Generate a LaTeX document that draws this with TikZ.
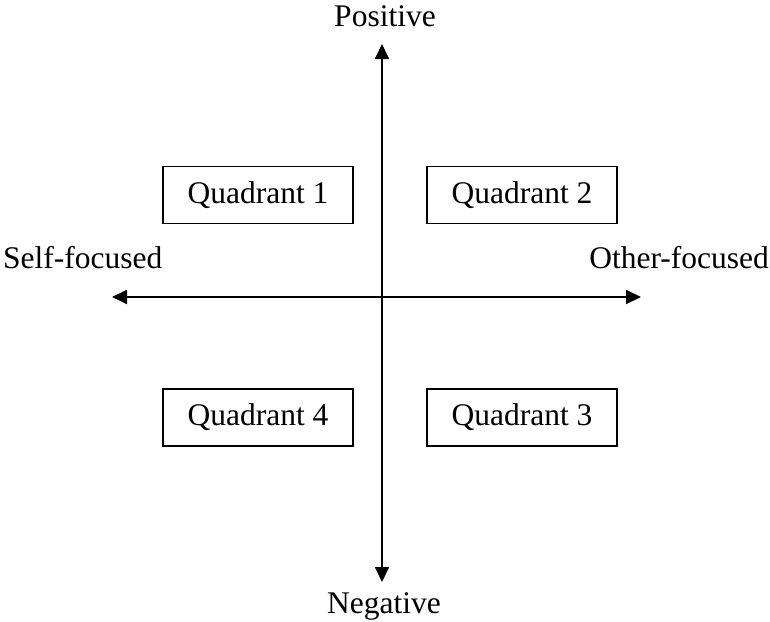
\documentclass[tikz,border=0pt]{standalone}
\usepackage{fontspec}
\setmainfont{Liberation Serif}
\usetikzlibrary{arrows.meta}
\begin{document}
\begin{tikzpicture}[x=1pt,y=-1pt,
  axis/.style={line width=1.8pt,-{Triangle[length=15pt,width=14pt]}},
  quad/.style={draw,line width=1.2pt,minimum width=190pt,minimum height=57pt,inner sep=0pt,font=\fontsize{31.5}{36}\selectfont},
  lbl/.style={font=\fontsize{31.5}{36}\selectfont,inner sep=0pt}]
\useasboundingbox (0,0) rectangle (770,621);
\coordinate (c) at (382,297);
\coordinate (top) at (382,44);
\coordinate (bot) at (382,582);
\coordinate (left) at (112,297);
\coordinate (right) at (641,297);
\draw[axis] (c) -- (top);
\draw[axis] (c) -- (bot);
\draw[axis] (c) -- (left);
\draw[axis] (c) -- (right);
\node[quad] (q1) at (258,195) {Quadrant 1};
\node[quad] (q2) at (522,195) {Quadrant 2};
\node[quad] (q4) at (258,417.5) {Quadrant 4};
\node[quad] (q3) at (522,417.5) {Quadrant 3};
\node[lbl,anchor=base] (pos) at (385,27) {Positive};
\node[lbl,anchor=base] (neg) at (384,613) {Negative};
\node[lbl,anchor=base west] (self) at (3,268) {Self-focused};
\node[lbl,anchor=base east] (other) at (769,268) {Other-focused};
\end{tikzpicture}
\end{document}
